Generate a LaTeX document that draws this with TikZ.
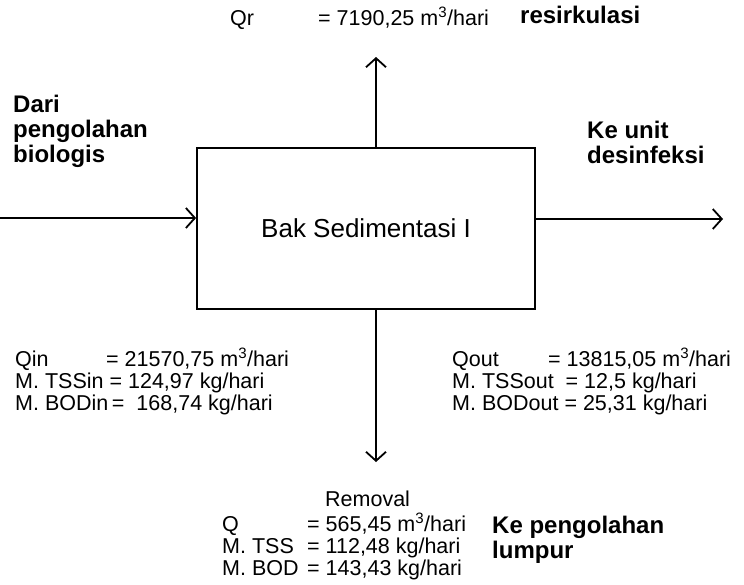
\documentclass[tikz,border=0pt]{standalone}
\usepackage{fontspec}
\setmainfont{Liberation Sans}
\usetikzlibrary{arrows.meta}
\begin{document}
\begin{tikzpicture}[x=1pt,y=-1pt,
  flow/.style={line width=1.8pt, -{Straight Barb[length=9pt,width=20pt,line width=1.8pt]}},
  lbl/.style={font=\fontsize{24}{25}\selectfont\bfseries, inner sep=0pt, anchor=base west},
  data/.style={font=\fontsize{21.5}{22}\selectfont, inner sep=0pt, anchor=base west},
]
\useasboundingbox (0,0) rectangle (744,584);
% main box
\node[draw, line width=1.8pt, minimum width=338pt, minimum height=161pt, inner sep=0pt,
      font=\fontsize{26}{30}\selectfont] (bak) at (366,228.5) {Bak Sedimentasi I};
% connector end points
\coordinate (inS) at (0,218);
\coordinate (outE) at (723,219);
\coordinate (upE) at (376,57);
\coordinate (dnE) at (376,462);
\draw[flow] (inS) -- (inS -| bak.west);
\draw[flow] (bak.east |- outE) -- (outE);
\draw[flow] (bak.north -| upE) -- (upE);
\draw[flow] (bak.south -| dnE) -- (dnE);
% top texts
\node[data] (qr) at (230,25) {Qr};
\node[data] (qrv) at (318,25) {= 7190,25 m\textsuperscript{3}/hari};
\node[lbl] (res) at (520,23) {resirkulasi};
% left labels
\node[lbl] (dari1) at (13,112) {Dari};
\node[lbl] (dari2) at (13,137) {pengolahan};
\node[lbl] (dari3) at (13,162) {biologis};
% right labels
\node[lbl] (ke1) at (587,138) {Ke unit};
\node[lbl] (ke2) at (587,163) {desinfeksi};
% input data
\node[data] (in1) at (15,366) {\makebox[91pt][l]{Qin}= 21570,75 m\textsuperscript{3}/hari};
\node[data] (in2) at (15,388) {M. TSSin = 124,97 kg/hari};
\node[data] (in3) at (15,410) {M. BODin\,=\ \ 168,74 kg/hari};
% output data
\node[data] (out1) at (452,366) {\makebox[96pt][l]{Qout}= 13815,05 m\textsuperscript{3}/hari};
\node[data] (out2) at (452,388) {M. TSSout\ \ = 12,5 kg/hari};
\node[data] (out3) at (452,410) {M. BODout = 25,31 kg/hari};
% removal data
\node[data] (rem) at (325,506) {Removal};
\node[data] (r1) at (222,531) {\makebox[85pt][l]{Q}= 565,45 m\textsuperscript{3}/hari};
\node[data] (r2) at (222,553) {\makebox[85pt][l]{M. TSS}= 112,48 kg/hari};
\node[data] (r3) at (222,575) {\makebox[85pt][l]{M. BOD}= 143,43 kg/hari};
% sludge label
\node[lbl] (lum1) at (492,533) {Ke pengolahan};
\node[lbl] (lum2) at (492,558) {lumpur};
\end{tikzpicture}
\end{document}
